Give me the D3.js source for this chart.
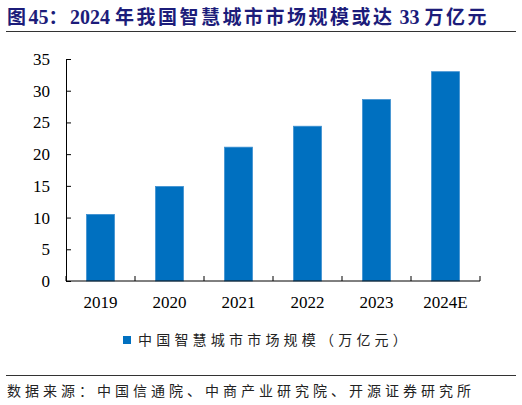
<!DOCTYPE html>
<html>
<head>
<meta charset="utf-8">
<script src="https://cdn.jsdelivr.net/npm/d3@7"></script>
<style>
  body { margin: 0; background: #fff; }
  svg { display: block; }
  .axis path, .axis line { stroke: #000; }
  .axis text { font-family: "Liberation Serif", "Times New Roman", serif; font-size: 17px; fill: #000; }
</style>
</head>
<body>
<div id="chart"></div>
<script>
// Data
var years = ["2019", "2020", "2021", "2022", "2023", "2024E"];
var marketSize = [10.5, 14.9, 21.1, 24.4, 28.6, 33.0];
var yTicks = [0, 5, 10, 15, 20, 25, 30, 35];

// title pieces: [text, isCJK]
var titleParts = [
  ["图", true], ["45", false], ["：", true], ["2024 ", false],
  ["年我国智慧城市市场规模或达", true], [" 33 ", false], ["万亿元", true]
];
var legendText = "中国智慧城市市场规模（万亿元）";
var sourceText = "数据来源：中国信通院、中商产业研究院、开源证券研究所";

var width = 522;
var height = 405;
var margins = { top: 59, right: 42, bottom: 124, left: 66 };
var chartWidth = width - margins.left - margins.right;
var chartHeight = height - margins.top - margins.bottom;

var svg = d3.select("#chart")
  .append("svg")
  .attr("width", width)
  .attr("height", height);

// Title + rules
svg.append("text")
  .attr("x", 7)
  .attr("y", 24)
  .attr("fill", "#1c1c7a")
  .style("font-family", "'Liberation Serif', 'Noto Sans CJK SC', serif")
  .style("font-weight", "bold")
  .style("font-size", "19px")
  .selectAll("tspan")
  .data(titleParts)
  .enter()
  .append("tspan")
  .style("letter-spacing", (d) => (d[1] ? "2.5px" : "0px"))
  .style("font-size", (d) => (d[1] ? "19px" : "20px"))
  .text((d) => d[0]);

svg.append("line")
  .attr("x1", 6).attr("x2", 516)
  .attr("y1", 31.5).attr("y2", 31.5)
  .attr("stroke", "#333").attr("stroke-width", 1);

svg.append("line")
  .attr("x1", 6).attr("x2", 516)
  .attr("y1", 375.5).attr("y2", 375.5)
  .attr("stroke", "#333").attr("stroke-width", 1);

svg.append("text")
  .attr("x", 7)
  .attr("y", 396)
  .attr("fill", "#222")
  .style("font-family", "'Noto Sans CJK SC', sans-serif")
  .style("font-size", "14px")
  .style("letter-spacing", "4px")
  .text(sourceText);

// Scales
var xScale = d3.scaleBand()
  .domain(years)
  .range([0, chartWidth])
  .paddingInner(0.595)
  .paddingOuter(0.2975);

var yScale = d3.scaleLinear()
  .domain([0, 35])
  .range([chartHeight, 0]);

var chartElement = svg.append("g")
  .attr("transform", "translate(" + margins.left + "," + margins.top + ")");

// Bars
chartElement.selectAll("rect.bar")
  .data(years)
  .enter()
  .append("rect")
  .attr("class", "bar")
  .attr("x", function (d) { return xScale(d); })
  .attr("y", function (d, i) { return yScale(marketSize[i]); })
  .attr("width", xScale.bandwidth())
  .attr("height", function (d, i) { return chartHeight - yScale(marketSize[i]); })
  .attr("fill", "#0070c0")
  .attr("stroke", "#3d8fd0")
  .attr("stroke-width", 0.8);

// Y axis
var yAxis = d3.axisLeft(yScale)
  .tickValues(yTicks)
  .tickSizeInner(-5)
  .tickSizeOuter(0)
  .tickPadding(16);

chartElement.append("g")
  .attr("class", "y axis")
  .call(yAxis);

// X axis: ticks at category boundaries, pointing up
var step = xScale.step();
var xAxisG = chartElement.append("g")
  .attr("class", "x axis")
  .attr("transform", "translate(0," + chartHeight + ")");

xAxisG.append("line")
  .attr("x1", 0).attr("x2", chartWidth)
  .attr("y1", 0).attr("y2", 0)
  .attr("stroke", "#000");

xAxisG.selectAll("line.tick")
  .data(d3.range(years.length + 1))
  .enter()
  .append("line")
  .attr("class", "tick")
  .attr("x1", function (i) { return i * step; })
  .attr("x2", function (i) { return i * step; })
  .attr("y1", 0).attr("y2", -5)
  .attr("stroke", "#000");

xAxisG.selectAll("text")
  .data(years)
  .enter()
  .append("text")
  .attr("x", function (d) { return xScale(d) + xScale.bandwidth() / 2; })
  .attr("y", 27)
  .attr("text-anchor", "middle")
  .text(function (d) { return d; });

// Legend
var legend = svg.append("g")
  .attr("transform", "translate(123,336)");

legend.append("rect")
  .attr("width", 8).attr("height", 8)
  .attr("fill", "#0070c0");

legend.append("text")
  .attr("x", 15)
  .attr("y", 9)
  .attr("fill", "#222")
  .style("font-family", "'Noto Sans CJK SC', sans-serif")
  .style("font-size", "14px")
  .style("letter-spacing", "4.2px")
  .text(legendText);
</script>
</body>
</html>
